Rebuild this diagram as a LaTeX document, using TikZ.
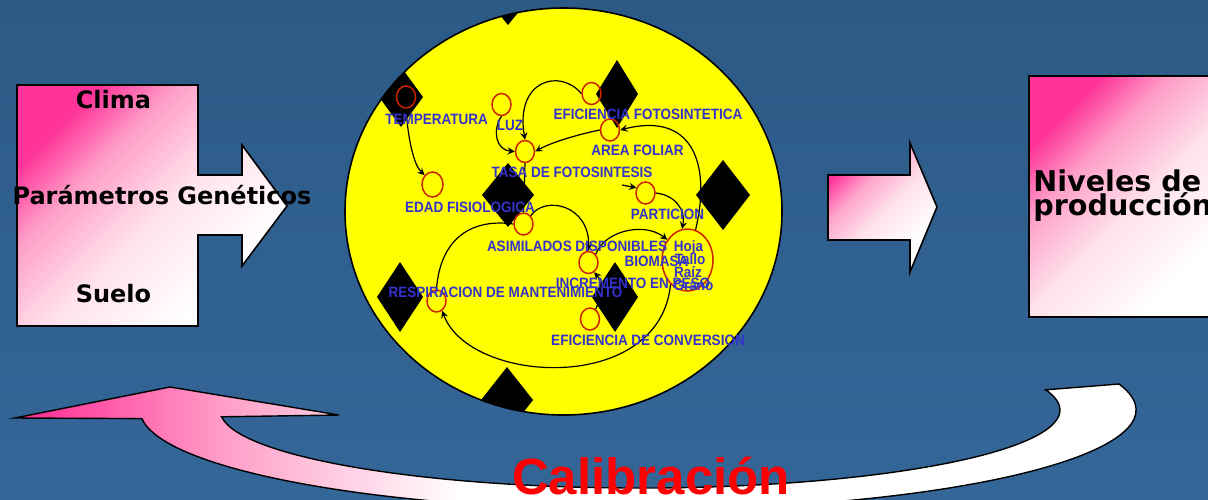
\documentclass[tikz,border=0pt]{standalone}
\usepackage{fontspec}
\usepackage{tikz}
\usetikzlibrary{shapes.geometric}
\newfontfamily\boxfont{DejaVu Sans}
\newfontfamily\lblfont{Liberation Sans}
\newfontfamily\narrowfont{Liberation Sans}[FakeStretch=0.9]
\definecolor{bgtop}{HTML}{2C5A86}
\definecolor{bgbot}{HTML}{346698}
\definecolor{hotpink}{HTML}{FF3399}
\definecolor{pinkmid}{HTML}{FF9FC8}
\definecolor{pinkpale}{HTML}{FFE2EC}
\definecolor{sunyellow}{HTML}{FFFF00}
\definecolor{ringred}{HTML}{CC2200}
\definecolor{lblblue}{HTML}{3333CC}
\definecolor{calibred}{HTML}{FF0000}
\pgfdeclarehorizontalshading{calib}{100bp}{color(0bp)=(hotpink); color(26bp)=(hotpink); color(34bp)=(pinkmid); color(44bp)=(white); color(100bp)=(white)}
\pgfdeclareverticalshading{pinkbox}{100bp}{color(0bp)=(white); color(30bp)=(white); color(48bp)=(pinkpale); color(63bp)=(pinkmid); color(74bp)=(hotpink); color(100bp)=(hotpink)}

\begin{document}
\begin{tikzpicture}[x=0.5pt,y=-0.5pt,
    ring/.style={ellipse,draw=ringred,line width=0.75pt,minimum width=9.5pt,minimum height=11pt,inner sep=0pt},
    lbl/.style={anchor=base,text=lblblue,font=\narrowfont\bfseries\fontsize{7.5}{8}\selectfont,inner sep=0pt},
    big/.style={anchor=base,font=\boxfont\bfseries\fontsize{12}{14}\selectfont,inner sep=0pt},
    pinkfill/.style={draw=black,line width=0.8pt,shading=pinkbox,shading angle=45},
    link/.style={-stealth,black,line width=0.6pt}]
    % basics
    \useasboundingbox (0,0) rectangle (1208,499);
    \clip (0,0) rectangle (1208,499);
    \shade[top color=bgtop,bottom color=bgbot] (0,0) rectangle (1208,499);

    % calibration arrow
    \shade[shading=calib,draw=black,line width=0.7pt] (1119,384) arc[start angle=-15,end angle=175,x radius=498,y radius=100]
        -- (15,418) -- (170,387) -- (339,415) -- (221.6,416.8)
        arc[start angle=175,end angle=-15,x radius=420,y radius=78] -- cycle;

    % inputs
    \shade[pinkfill]
        (17,85) -- (198,85) -- (198,175) -- (242,175) -- (242,145) -- (287,206) -- (242,266) -- (242,235)
        -- (198,235) -- (198,326) -- (17,326) -- cycle;
    \node[big] (clima) at (113.5,108) {Clima};
    \node[big] (param) at (162,204) {Parámetros Genéticos};
    \node[big] (suelo) at (113.5,302) {Suelo};

    % output
    \shade[pinkfill]
        (828,175) -- (910,175) -- (910,143) -- (937,207) -- (910,272) -- (910,240) -- (828,240) -- cycle;
    \shade[pinkfill] (1029,76) rectangle (1240,317);
    \node[big,anchor=base west,font=\boxfont\bfseries\fontsize{14.3}{16}\selectfont] (niv) at (1033,191) {Niveles de};
    \node[big,anchor=base west,font=\boxfont\bfseries\fontsize{14.3}{16}\selectfont] (prod) at (1033,215) {producción};

    % model
    \begin{scope}
        \clip (563.5,211.5) ellipse [x radius=218.5,y radius=203.5];
        \fill[sunyellow] (563.5,211.5) ellipse [x radius=218.5,y radius=203.5];
        \foreach \x/\y/\w/\h in {508/-7/26/32, 401/97/22/30, 617/94/21/34, 723/195/27/35,
                                 508/195/26/32, 400/297/23/35, 615/297/23/35, 507/400/26/33}
            \fill[black] (\x-\w,\y) -- (\x,\y-\h) -- (\x+\w,\y) -- (\x,\y+\h) -- cycle;
    \end{scope}
    \draw[black,line width=0.8pt] (563.5,211.5) ellipse [x radius=218.5,y radius=203.5];

    \node[ring] (temp) at (406,97) {};
    \node[ring] (luz) at (501.5,104.5) {};
    \node[ring] (efic) at (591.5,93.5) {};
    \node[ring] (area) at (610,130) {};
    \node[ring] (tasa) at (525,151.5) {};
    \node[ring,minimum width=10.5pt,minimum height=12.5pt] (edad) at (432.5,184.5) {};
    \node[ring] (part) at (645.5,193) {};
    \node[ring] (asim) at (523.5,224) {};
    \node[ring] (incr) at (588.5,262.5) {};
    \node[ring,minimum width=25.5pt,minimum height=31pt] (bio) at (687.5,260) {};
    \node[ring] (resp) at (436.5,301) {};
    \node[ring] (conv) at (590,319) {};

    % flows
    \draw[link] (temp.south) .. controls (408,140) and (414,165) .. (edad.north west);
    \draw[link] (luz.south) .. controls (492,130) and (496,150) .. (tasa.west);
    \draw[link] (efic.west) .. controls (560,68) and (515,80) .. (tasa.north);
    \draw[link] (area.west) .. controls (580,134) and (552,142) .. (tasa.east);
    \draw[link] (bio.75) .. controls (712,160) and (690,112) .. (area.east);
    \draw[line width=0.6pt] (tasa.south) -- (asim.north);
    \draw[link] (asim.north east) .. controls (545,195) and (590,205) .. (incr.north);
    \draw[line width=0.6pt] (resp.north) .. controls (440,240) and (470,218) .. (asim.west);
    \draw[link] (incr.north east) .. controls (605,230) and (645,222) .. (bio.135);
    \draw[link] (bio.235) .. controls (660,395) and (470,385) .. (resp.300);
    \draw[link] (conv.60) .. controls (603,292) and (601,280) .. (incr.-60);
    \draw[link] (part.east) .. controls (675,195) and (686,210) .. (bio.100);
    \coordinate (partin) at (622,185);
    \draw[link] (partin) -- (part.150);

    \node[lbl] (tempL) at (436.5,124) {TEMPERATURA};
    \node[lbl] (luzL) at (510,130) {LUZ};
    \node[lbl] (eficL) at (648,119) {EFICIENCIA FOTOSINTETICA};
    \node[lbl] (areaL) at (637.5,155) {AREA FOLIAR};
    \node[lbl] (tasaL) at (572,177) {TASA DE FOTOSINTESIS};
    \node[lbl] (edadL) at (470,212) {EDAD FISIOLOGICA};
    \node[lbl] (partL) at (667.5,219) {PARTICION};
    \node[lbl] (asimL) at (577,251) {ASIMILADOS DISPONIBLES};
    \node[lbl] (hoja) at (688.5,251) {Hoja};
    \node[lbl] (bioL) at (656.5,266) {BIOMASA};
    \node[lbl] (tallo) at (690,264) {Tallo};
    \node[lbl] (raiz) at (688,277) {Raíz};
    \node[lbl] (incrL) at (633,288) {INCREMENTO EN PESO};
    \node[lbl] (grano) at (693.5,290) {Grano};
    \node[lbl] (respL) at (505.5,297) {RESPIRACION DE MANTENIMIENTO};
    \node[lbl] (convL) at (648,345) {EFICIENCIA DE CONVERSION};

    % calibration
    \node[anchor=base,inner sep=0pt,text=calibred,font=\lblfont\bfseries\fontsize{25.5}{28}\selectfont] (calibL) at (651,494) {Calibración};
\end{tikzpicture}
\end{document}
